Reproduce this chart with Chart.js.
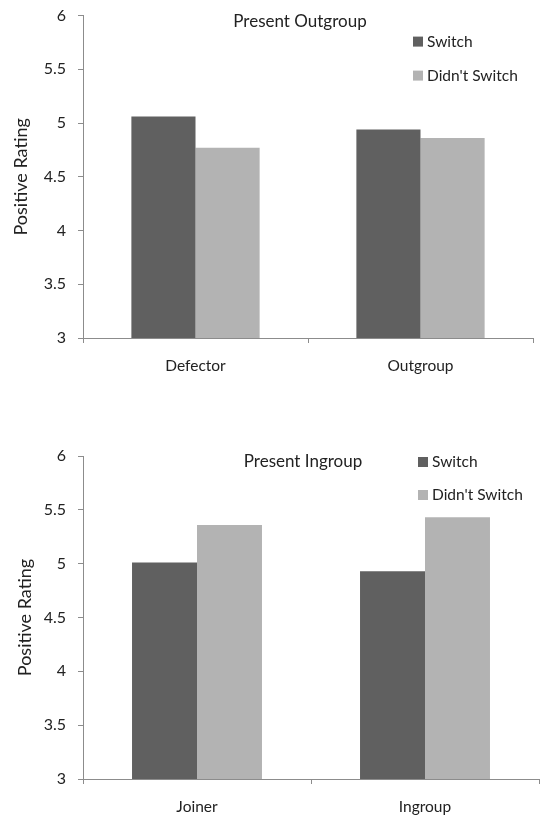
<!DOCTYPE html>
<html>
<head>
<meta charset="utf-8">
<script src="https://cdn.jsdelivr.net/npm/chart.js@4.4.0/dist/chart.umd.min.js"></script>
<style>
  body { margin: 0; background: #fff; overflow: hidden; }
  .wrap { position: absolute; left: 0; width: 550px; }
  #top-wrap { top: -6px; height: 386px; }
  #bottom-wrap { top: 430px; height: 390px; }
</style>
</head>
<body>
<div class="wrap" id="top-wrap"><canvas id="outgroup-chart"></canvas></div>
<div class="wrap" id="bottom-wrap"><canvas id="ingroup-chart"></canvas></div>
<script>
const seriesLabels = ["Switch", "Didn't Switch"];

const outgroupCategories = ["Defector", "Outgroup"];
const outgroupSwitch = [5.06, 4.94];
const outgroupNoSwitch = [4.77, 4.86];

const ingroupCategories = ["Joiner", "Ingroup"];
const ingroupSwitch = [5.01, 4.93];
const ingroupNoSwitch = [5.36, 5.43];

const yTicks = [3, 3.5, 4, 4.5, 5, 5.5, 6];

const COLORS = {
  DARK: "#606060",
  LIGHT: "#b3b3b3",
  AXIS: "#8c8c8c",
  TEXT: "#222222",
};
const FONT = "Lato";

// title + legend drawn inside the plot area like the original figure
function overlayPlugin(title, titleX, titleY, legendX, legendY, legendGap) {
  return {
    id: "overlay",
    afterDraw: (chart) => {
      const ctx = chart.ctx;
      const area = chart.chartArea;
      ctx.save();
      ctx.fillStyle = COLORS.TEXT;
      ctx.font = "17px " + FONT;
      ctx.textAlign = "center";
      ctx.textBaseline = "middle";
      ctx.fillText(title, area.left + titleX, area.top + titleY);

      ctx.font = "15.5px " + FONT;
      ctx.textAlign = "left";
      chart.data.datasets.forEach((ds, i) => {
        const y = area.top + legendY + i * legendGap;
        ctx.fillStyle = ds.backgroundColor;
        ctx.fillRect(area.left + legendX, y - 5, 10, 10);
        ctx.fillStyle = COLORS.TEXT;
        ctx.fillText(ds.label, area.left + legendX + 14, y);
      });
      ctx.restore();
    },
  };
}

function makeChart(id, categories, switchVals, noSwitchVals, opts) {
  return new Chart(document.getElementById(id), {
    type: "bar",
    plugins: [overlayPlugin(opts.title, opts.titleX, opts.titleY, opts.legendX, opts.legendY, opts.legendGap)],
    data: {
      labels: categories,
      datasets: [
        { label: seriesLabels[0], data: switchVals, backgroundColor: COLORS.DARK },
        { label: seriesLabels[1], data: noSwitchVals, backgroundColor: COLORS.LIGHT },
      ],
    },
    options: {
      responsive: true,
      maintainAspectRatio: false,
      animation: false,
      layout: {
        padding: { top: opts.padTop, right: opts.padRight, left: 0, bottom: 0 },
      },
      datasets: {
        bar: { categoryPercentage: 0.57, barPercentage: 1.0, borderWidth: 0 },
      },
      plugins: {
        legend: { display: false },
        tooltip: { enabled: false },
        title: { display: false },
      },
      scales: {
        x: {
          afterFit: (s) => { s.height = opts.xHeight; },
          grid: {
            offset: true,
            drawOnChartArea: false,
            tickLength: 5,
            color: COLORS.AXIS,
          },
          border: { color: COLORS.AXIS },
          ticks: {
            color: COLORS.TEXT,
            font: { family: FONT, size: 15.5 },
            padding: 14,
          },
        },
        y: {
          min: 3,
          max: 6,
          afterFit: (s) => { s.width = 83; },
          afterBuildTicks: (s) => { s.ticks = yTicks.map((v) => ({ value: v })); },
          grid: {
            drawOnChartArea: false,
            tickLength: 5,
            color: COLORS.AXIS,
          },
          border: { color: COLORS.AXIS },
          ticks: {
            color: COLORS.TEXT,
            font: { family: FONT, size: 16 },
            padding: 12,
            callback: (v) => String(v),
          },
          title: {
            display: true,
            text: "Positive Rating",
            color: COLORS.TEXT,
            font: { family: FONT, size: 18 },
            padding: { top: opts.yTitlePad, bottom: 0 },
          },
        },
      },
    },
  });
}

makeChart("outgroup-chart", outgroupCategories, outgroupSwitch, outgroupNoSwitch, {
  title: "Present Outgroup",
  titleX: 217, titleY: 6,
  legendX: 330, legendY: 26, legendGap: 34,
  padTop: 10, padRight: 17, xHeight: 42, yTitlePad: 10,
});

makeChart("ingroup-chart", ingroupCategories, ingroupSwitch, ingroupNoSwitch, {
  title: "Present Ingroup",
  titleX: 220, titleY: 6,
  legendX: 335, legendY: 6, legendGap: 33,
  padTop: 26, padRight: 11, xHeight: 41, yTitlePad: 14,
});
</script>
</body>
</html>
